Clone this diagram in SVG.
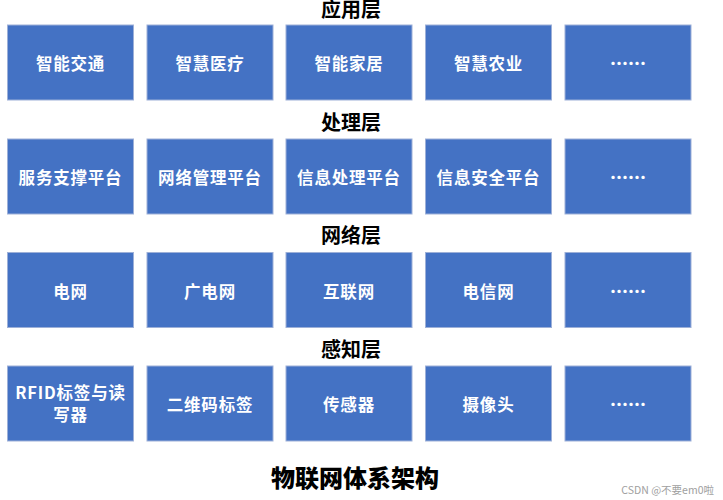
<svg xmlns="http://www.w3.org/2000/svg" width="723" height="500" viewBox="0 0 723 500">
<style>
.box{fill:#4472C4;stroke:#9DB0D8;stroke-width:1}
.bt{font-family:"Noto Sans CJK SC","Noto Sans",sans-serif;font-weight:bold;font-size:16.5px;fill:#FFFFFF;text-anchor:middle;dominant-baseline:central;letter-spacing:0.8px}
.dots{font-family:"Noto Sans CJK SC","Noto Sans",sans-serif;font-weight:900;font-size:18px;fill:#FFFFFF;text-anchor:middle;dominant-baseline:central}
.lay{font-family:"Noto Sans CJK SC","Noto Sans",sans-serif;font-weight:bold;font-size:20px;fill:#000000;text-anchor:middle}
.title{font-family:"Noto Sans CJK SC","Noto Sans",sans-serif;font-weight:900;font-size:24px;fill:#000000;text-anchor:middle}
.wm{font-family:"Noto Sans CJK SC","Liberation Sans",sans-serif;font-size:10.5px;fill:#A0A0A0;text-anchor:end}
</style>
<rect width="723" height="500" fill="#FFFFFF"/>
<g id="connectors"></g>
<g id="layer-labels">
<text class="lay" x="351" y="17">应用层</text>
<text class="lay" x="351" y="130">处理层</text>
<text class="lay" x="351" y="243">网络层</text>
<text class="lay" x="351" y="357">感知层</text>
</g>
<g id="app-1"><rect class="box" x="7.5" y="25" width="126" height="75"/><text class="bt" x="70.5" y="63">智能交通</text></g>
<g id="app-2"><rect class="box" x="147" y="25" width="126" height="75"/><text class="bt" x="210" y="63">智慧医疗</text></g>
<g id="app-3"><rect class="box" x="286" y="25" width="126" height="75"/><text class="bt" x="349" y="63">智能家居</text></g>
<g id="app-4"><rect class="box" x="425.5" y="25" width="126" height="75"/><text class="bt" x="488.5" y="63">智慧农业</text></g>
<g id="app-5"><rect class="box" x="565" y="25" width="126" height="75"/><text class="dots" x="628" y="62">……</text></g>
<g id="proc-1"><rect class="box" x="7.5" y="139" width="126" height="75"/><text class="bt" x="70.5" y="177">服务支撑平台</text></g>
<g id="proc-2"><rect class="box" x="147" y="139" width="126" height="75"/><text class="bt" x="210" y="177">网络管理平台</text></g>
<g id="proc-3"><rect class="box" x="286" y="139" width="126" height="75"/><text class="bt" x="349" y="177">信息处理平台</text></g>
<g id="proc-4"><rect class="box" x="425.5" y="139" width="126" height="75"/><text class="bt" x="488.5" y="177">信息安全平台</text></g>
<g id="proc-5"><rect class="box" x="565" y="139" width="126" height="75"/><text class="dots" x="628" y="176">……</text></g>
<g id="net-1"><rect class="box" x="7.5" y="252.5" width="126" height="75"/><text class="bt" x="70.5" y="291">电网</text></g>
<g id="net-2"><rect class="box" x="147" y="252.5" width="126" height="75"/><text class="bt" x="210" y="291">广电网</text></g>
<g id="net-3"><rect class="box" x="286" y="252.5" width="126" height="75"/><text class="bt" x="349" y="291">互联网</text></g>
<g id="net-4"><rect class="box" x="425.5" y="252.5" width="126" height="75"/><text class="bt" x="488.5" y="291">电信网</text></g>
<g id="net-5"><rect class="box" x="565" y="252.5" width="126" height="75"/><text class="dots" x="628" y="290">……</text></g>
<g id="sense-1"><rect class="box" x="7.5" y="366" width="126" height="75"/><text class="bt" x="70.5" y="392">RFID标签与读</text><text class="bt" x="70.5" y="414">写器</text></g>
<g id="sense-2"><rect class="box" x="147" y="366" width="126" height="75"/><text class="bt" x="210" y="404">二维码标签</text></g>
<g id="sense-3"><rect class="box" x="286" y="366" width="126" height="75"/><text class="bt" x="349" y="404">传感器</text></g>
<g id="sense-4"><rect class="box" x="425.5" y="366" width="126" height="75"/><text class="bt" x="488.5" y="404">摄像头</text></g>
<g id="sense-5"><rect class="box" x="565" y="366" width="126" height="75"/><text class="dots" x="628" y="403">……</text></g>
<text class="title" x="355" y="487">物联网体系架构</text>
<text class="wm" x="714" y="494">CSDN @不要em0啦</text>
</svg>
